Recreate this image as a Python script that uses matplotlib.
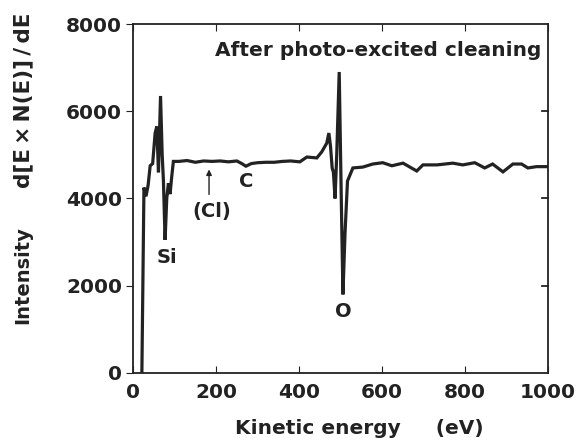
import matplotlib.pyplot as plt

# Auger spectrum after photo-excited cleaning
energy = [17, 21, 26, 31, 36, 41, 47, 53, 57, 61, 66, 70, 73, 77, 81, 85, 89, 93, 97,
          110, 130, 150, 170, 190, 210, 230, 250, 262, 272, 285, 300, 320, 340, 360,
          380, 402, 419, 443, 455, 467, 472, 476, 480, 483, 487, 491, 497, 502,
          506, 511, 517, 530, 554, 578, 602, 624, 651, 684, 699, 733, 771, 795, 824,
          848, 867, 892, 916, 937, 952, 973, 998]
intensity = [-2000, 0, 4250, 4050, 4300, 4750, 4800, 5500, 5650, 4600, 6350, 5000,
             4400, 3050, 4000, 4350, 4100, 4500, 4850,
             4850, 4870, 4830, 4860, 4850, 4860, 4840, 4860, 4800, 4740, 4800, 4820,
             4830, 4830, 4850, 4860, 4840, 4950, 4930, 5070, 5270, 5500, 5200,
             4700, 4600, 4000, 5000, 6900, 4000, 1800, 3200, 4400, 4700, 4720, 4790,
             4820, 4750, 4810, 4630, 4770, 4770, 4810, 4770, 4820, 4700, 4790, 4610,
             4790, 4790, 4700, 4730, 4730]

x_ticks = [0, 200, 400, 600, 800, 1000]
y_ticks = [0, 2000, 4000, 6000, 8000]

ink = '#222222'
plt.rcParams['font.family'] = 'DejaVu Sans'
plt.rcParams['font.weight'] = 'bold'

fig = plt.figure(figsize=(5.79, 4.45), dpi=100)
ax = fig.add_axes([0.23, 0.162, 0.716, 0.784])

ax.plot(energy, intensity, color=ink, linewidth=2.3, solid_joinstyle='miter')
ax.set_xlim(0, 1000)
ax.set_ylim(0, 8000)
ax.set_xticks(x_ticks)
ax.set_yticks(y_ticks)
ax.tick_params(axis='x', direction='in', top=True, length=5, labelsize=14.5, pad=7,
               colors=ink)
ax.tick_params(axis='y', direction='out', length=5, labelsize=14.5, pad=3, colors=ink)
for lab in ax.get_xticklabels() + ax.get_yticklabels():
    lab.set_fontweight('bold')
for side in ax.spines.values():
    side.set_linewidth(1.3)
    side.set_color(ink)

# inward ticks on the right side
for yv in y_ticks[1:-1]:
    ax.plot([986, 1000], [yv, yv], color=ink, linewidth=1.3, clip_on=False)

ax.text(985, 7400, 'After photo-excited cleaning', ha='right', va='center',
        fontsize=14.5, fontweight='bold', color=ink)
ax.text(82, 2650, 'Si', ha='center', va='center', fontsize=14, fontweight='bold', color=ink)
ax.text(506, 1400, 'O', ha='center', va='center', fontsize=14, fontweight='bold', color=ink)
ax.text(272, 4380, 'C', ha='center', va='center', fontsize=14, fontweight='bold', color=ink)
ax.text(190, 3690, '(Cl)', ha='center', va='center', fontsize=14, fontweight='bold', color=ink)
ax.annotate('', xy=(183, 4730), xytext=(183, 4030),
            arrowprops=dict(arrowstyle='-|>', color=ink, lw=1.0, mutation_scale=8))

fig.text(0.04, 0.382, 'Intensity', rotation=90, ha='center', va='center',
         fontsize=14, fontweight='bold', color=ink)
fig.text(0.04, 0.775, 'd[E\u2009\u00d7\u2009N(E)]\u2009/\u2009dE', rotation=90,
         ha='center', va='center', fontsize=15.5, fontweight='bold', color=ink)
fig.text(0.62, 0.038, 'Kinetic energy     (eV)', ha='center', va='center',
         fontsize=14.5, fontweight='bold', color=ink)

fig.savefig('out.png', dpi=100)
